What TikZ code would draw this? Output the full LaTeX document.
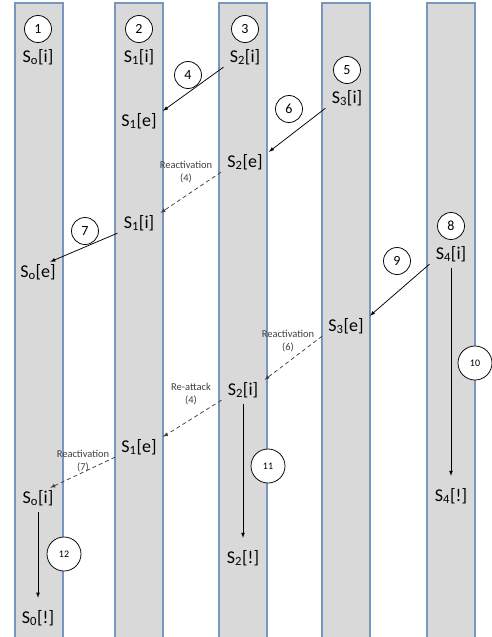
\documentclass[tikz,border=0pt]{standalone}
\usepackage{fontspec}
\setmainfont{Carlito}
\definecolor{barfill}{RGB}{217,217,217}
\definecolor{barline}{RGB}{120,150,192}
\definecolor{notegray}{RGB}{64,64,64}
\begin{document}
\begin{tikzpicture}[x=1pt,y=-1pt,>=latex,node distance=28pt,line width=0.75pt,
	  lbl/.style={inner xsep=6pt,inner ysep=2pt,font=\fontsize{18}{21}\selectfont},
	  num/.style={circle,draw,fill=white,minimum size=27pt,inner sep=0pt,font=\fontsize{14}{16}\selectfont},
	  bignum/.style={num,minimum size=34pt,font=\fontsize{10}{12}\selectfont},
	  note/.style={align=center,text=notegray,font=\fontsize{10.5}{13}\selectfont},
	  react/.style={->,draw=notegray,dash pattern=on 4pt off 3pt},
	  drop/.style={->,shorten <=4pt,shorten >=10pt}]
	  \useasboundingbox (0,0) rectangle (491,637);
	  \foreach \x in {15,115,219,322,427}
	    \draw[barline,fill=barfill,line width=1.1pt] (\x,3) rectangle (\x+48,642);
	  \node[lbl] (s0i) at (38,57) {S\textsubscript{o}[i]};
	  \node[num] (n1) [above of=s0i] {1};
	  \node[lbl] (s1i) at (139,57) {S\textsubscript{1}[i]};
	  \node[num] (n2) [above of=s1i] {2};
	  \node[lbl] (s2i) at (245,57) {S\textsubscript{2}[i]};
	  \node[num] (n3) [above of=s2i] {3};
	  \node[lbl] (s3i) at (347,98) {S\textsubscript{3}[i]};
	  \node[num] (n5) [above of=s3i] {5};
	  \node[lbl] (s4i) at (451,254) {S\textsubscript{4}[i]};
	  \node[num] (n8) [above of=s4i] {8};
	  \node[lbl] (s1e) at (139,121) {S\textsubscript{1}[e]};
	  \node[lbl] (s2e) at (245,162) {S\textsubscript{2}[e]};
	  \node[lbl] (s1ib) at (139,223) {S\textsubscript{1}[i]};
	  \node[lbl] (s0e) at (38,272) {S\textsubscript{o}[e]};
	  \node[lbl] (s3e) at (346,326) {S\textsubscript{3}[e]};
	  \node[lbl] (s2ib) at (243,390) {S\textsubscript{2}[i]};
	  \node[lbl] (s1eb) at (139,447) {S\textsubscript{1}[e]};
	  \node[lbl] (s0ib) at (38,498) {S\textsubscript{o}[i]};
	  \node[lbl] (s4x) at (451,496) {S\textsubscript{4}[!]};
	  \node[lbl] (s2x) at (243,558) {S\textsubscript{2}[!]};
	  \node[lbl] (s0x) at (38,618) {S\textsubscript{0}[!]};
	  \node[num] (n4) at (188,75) {4};
	  \node[num] (n6) at (289,109) {6};
	  \node[num] (n7) at (85,231) {7};
	  \node[num] (n9) at (397,261) {9};
	  \node[bignum] (n10) at (475,363) {10};
	  \node[bignum] (n11) at (268,466) {11};
	  \node[bignum] (n12) at (64,554) {12};
	  \node[note] (r4) at (186,172) {Reactivation\\(4)};
	  \node[note] (r6) at (288,341) {Reactivation\\(6)};
	  \node[note] (a4) at (191,394) {Re-attack\\(4)};
	  \node[note] (r7) at (83,461) {Reactivation\\(7)};
	  \draw[->] (s2i.south west) to (s1e.north east);
	  \draw[->] (s3i.south west) to (s2e.north east);
	  \draw[->] (s1ib.south west) to (s0e.40);
	  \draw[->] (s4i.south west) to (s3e.north east);
	  \draw[react] (s2e.south west) to (s1ib.north east);
	  \draw[react] (s3e.south west) to (s2ib.north east);
	  \draw[react] (s2ib.south west) to (s1eb.north east);
	  \draw[react] (s1eb.south west) to (s0ib.40);
	  \draw[drop] (s4i) to (s4x);
	  \draw[drop] (s2ib) to (s2x);
	  \draw[drop] (s0ib) to (s0x);
	\end{tikzpicture}
\end{document}
